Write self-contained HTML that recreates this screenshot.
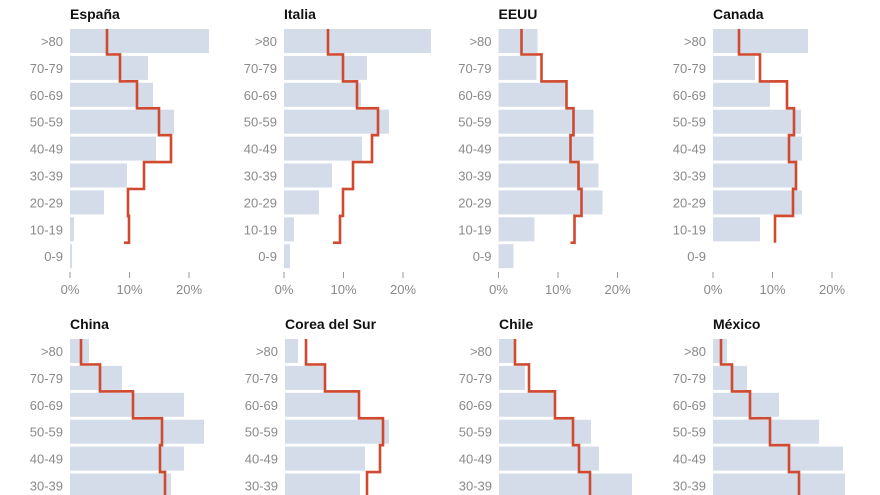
<!DOCTYPE html>
<html><head><meta charset="utf-8">
<style>
html,body{margin:0;padding:0;background:#fff;width:880px;height:495px;overflow:hidden;}
svg{display:block;}
text{font-family:"Liberation Sans",sans-serif;}
.lab{font-size:13px;fill:#8a8a8a;text-anchor:end;}
.tk{font-size:13px;fill:#8a8a8a;text-anchor:middle;}
.ttl{font-size:14px;font-weight:bold;fill:#111;}
</style></head>
<body>
<svg id="s" width="880" height="495" viewBox="0 0 880 495" xmlns="http://www.w3.org/2000/svg"></svg>
<script>
const P=[
 {t:"España",x:70,y:0,b:[139,78,83,104,86,57,34,4,2],l:[37,50,67,89,101,74,58,59,54],ax:1},
 {t:"Italia",x:284,y:0,b:[147,83,77,105,78,48,35,10,6],l:[44,59,73,94,88,69,59,56,49],ax:1},
 {t:"EEUU",x:498.5,y:0,b:[39,38,68,95,95,100,104,36,15],l:[23,43,68,75,72,80,83,76,72],ax:1},
 {t:"Canada",x:713,y:0,b:[95,42,57,88,89,82,89,47,0],l:[26,47,74,81,76,83,80,62,null],ax:1},
 {t:"China",x:70,y:310,b:[19,52,114,134,114,101,100,60,20],l:[11,30,63,92,90,95,95,95,95]},
 {t:"Corea del Sur",x:285,y:310,b:[13,40,75,104,80,75,70,40,20],l:[21,40,74,98,95,82,82,82,82]},
 {t:"Chile",x:499,y:310,b:[15,26,55,92,100,133,130,60,20],l:[16,30,56,74,80,91,91,91,91]},
 {t:"México",x:713,y:310,b:[14,34,66,106,130,132,130,80,30],l:[8,19,37,57,76,86,86,86,86]}
];
const labs=[">80","70-79","60-69","50-59","40-49","30-39","20-29","10-19","0-9"];
let h="";
const pitch=26.9;
for(const p of P){
 const x0=p.x, y0=p.y;
 h+=`<text class="ttl" x="${x0}" y="${y0+19}">${p.t}</text>`;
 for(let i=0;i<9;i++){
  const top=y0+29+pitch*i;
  if(top>495)break;
  if(p.b[i]>0)h+=`<rect x="${x0}" y="${top.toFixed(1)}" width="${p.b[i]}" height="24" fill="#d3dce8"/>`;
  h+=`<text class="lab" x="${x0-7}" y="${(top+17).toFixed(1)}">${labs[i]}</text>`;
 }
 let d="";
 for(let i=0;i<9;i++){
  const v=p.l[i]; if(v==null)break;
  const top=y0+29+pitch*i;
  if(top>500)break;
  const x=x0+v;
  if(i==0)d+=`M${x} ${top}`;
  else d+=` L${x} ${(top-1.5).toFixed(1)}`;
  if(i<8) d+=` L${x} ${(top+25.5).toFixed(1)}`;
 }
 h+=`<path d="${d}" fill="none" stroke="#cf4a30" stroke-width="2.6"/>`;
 if(p.ax){
  for(let k=0;k<3;k++){
   const tx=x0+k*59.5;
   h+=`<line x1="${tx}" x2="${tx}" y1="${y0+272}" y2="${y0+278}" stroke="#999" stroke-width="1"/>`;
   h+=`<text class="tk" x="${tx}" y="${y0+294}">${k*10}%</text>`;
  }
 }
}
document.getElementById("s").innerHTML=h;
</script>
</body></html>
